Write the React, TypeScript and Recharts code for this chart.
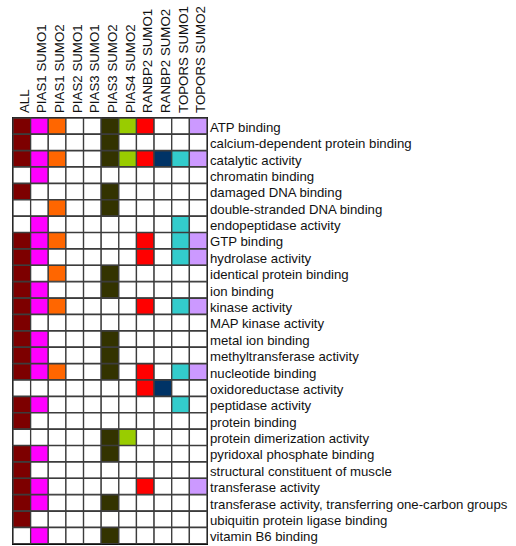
import React from 'react';
import { BarChart, Bar, XAxis, YAxis, Cell, ReferenceArea } from 'recharts';

const columns = [
  'ALL',
  'PIAS1 SUMO1',
  'PIAS1 SUMO2',
  'PIAS2 SUMO1',
  'PIAS3 SUMO1',
  'PIAS3 SUMO2',
  'PIAS4 SUMO2',
  'RANBP2 SUMO1',
  'RANBP2 SUMO2',
  'TOPORS SUMO1',
  'TOPORS SUMO2',
];

const columnColors = [
  '#7D0000',
  '#FF00FF',
  '#FF6600',
  '#FFFFFF',
  '#FFFFFF',
  '#333300',
  '#99CC00',
  '#FF0000',
  '#003366',
  '#33CCCC',
  '#CC99FF',
];

const categories = [
  'ATP binding',
  'calcium-dependent protein binding',
  'catalytic activity',
  'chromatin binding',
  'damaged DNA binding',
  'double-stranded DNA binding',
  'endopeptidase activity',
  'GTP binding',
  'hydrolase activity',
  'identical protein binding',
  'ion binding',
  'kinase activity',
  'MAP kinase activity',
  'metal ion binding',
  'methyltransferase activity',
  'nucleotide binding',
  'oxidoreductase activity',
  'peptidase activity',
  'protein binding',
  'protein dimerization activity',
  'pyridoxal phosphate binding',
  'structural constituent of muscle',
  'transferase activity',
  'transferase activity, transferring one-carbon groups',
  'ubiquitin protein ligase binding',
  'vitamin B6 binding',
];

// 1 = term enriched for that column
const membership = [
  [1, 1, 1, 0, 0, 1, 1, 1, 0, 0, 1],
  [1, 0, 0, 0, 0, 1, 0, 0, 0, 0, 0],
  [1, 1, 1, 0, 0, 1, 1, 1, 1, 1, 1],
  [0, 1, 0, 0, 0, 0, 0, 0, 0, 0, 0],
  [1, 0, 0, 0, 0, 1, 0, 0, 0, 0, 0],
  [0, 0, 1, 0, 0, 1, 0, 0, 0, 0, 0],
  [0, 1, 0, 0, 0, 0, 0, 0, 0, 1, 0],
  [1, 1, 1, 0, 0, 0, 0, 1, 0, 1, 1],
  [1, 1, 0, 0, 0, 0, 0, 1, 0, 1, 1],
  [1, 0, 1, 0, 0, 1, 0, 0, 0, 0, 0],
  [1, 1, 0, 0, 0, 1, 0, 0, 0, 0, 0],
  [1, 1, 1, 0, 0, 0, 0, 1, 0, 1, 1],
  [1, 0, 0, 0, 0, 0, 0, 0, 0, 0, 0],
  [1, 1, 0, 0, 0, 1, 0, 0, 0, 0, 0],
  [1, 1, 0, 0, 0, 1, 0, 0, 0, 0, 0],
  [1, 1, 1, 0, 0, 1, 0, 1, 0, 1, 1],
  [0, 0, 0, 0, 0, 0, 0, 1, 1, 0, 0],
  [1, 1, 0, 0, 0, 0, 0, 0, 0, 1, 0],
  [1, 0, 0, 0, 0, 0, 0, 0, 0, 0, 0],
  [0, 0, 0, 0, 0, 1, 1, 0, 0, 0, 0],
  [1, 1, 0, 0, 0, 1, 0, 0, 0, 0, 0],
  [1, 0, 0, 0, 0, 0, 0, 0, 0, 0, 0],
  [1, 1, 0, 0, 0, 0, 0, 1, 0, 0, 1],
  [1, 1, 0, 0, 0, 1, 0, 0, 0, 0, 0],
  [1, 0, 0, 0, 0, 0, 0, 0, 0, 0, 0],
  [0, 1, 0, 0, 0, 1, 0, 0, 0, 0, 0],
];

const columnTicks = columns.map((_, j) => j + 0.5);

const data = categories.map((name) => {
  const row: Record<string, string | number> = { name };
  columns.forEach((_, j) => {
    row[`c${j}`] = 1;
  });
  return row;
});

const FONT = '"Liberation Sans", Arial, sans-serif';

const ColumnTick = (props: any) => {
  const { x, y, payload } = props;
  const idx = Math.floor(payload.value);
  return (
    <g transform={`translate(${x + 7},${y}) rotate(-90)`}>
      <text x={0} y={0} textAnchor="start" fontSize={13.3} fontFamily={FONT} fill="#111">
        {columns[idx]}
      </text>
    </g>
  );
};

const RowTick = (props: any) => {
  const { x, y, payload } = props;
  return (
    <text x={x} y={y + 5.6} textAnchor="start" fontSize={13.2} fontFamily={FONT} fill="#111">
      {payload.value}
    </text>
  );
};

export default function App() {
  return (
    <div style={{ position: 'absolute', left: 0, top: 0, width: 516, height: 546, background: '#fff' }}>
      <BarChart
        width={516}
        height={546}
        data={data}
        layout="vertical"
        barCategoryGap={0}
        margin={{ top: 0, right: 0, left: 13, bottom: 2 }}
      >
        <XAxis
          type="number"
          orientation="top"
          domain={[0, 11]}
          ticks={columnTicks}
          interval={0}
          height={118}
          axisLine={false}
          tickLine={false}
          tickSize={0}
          tickMargin={5}
          tick={<ColumnTick />}
        />
        <YAxis
          type="category"
          dataKey="name"
          orientation="right"
          width={309}
          interval={0}
          axisLine={false}
          tickLine={false}
          tickSize={0}
          tickMargin={3}
          tick={<RowTick />}
        />
        {columns.map((c, j) => (
          <Bar
            key={c}
            dataKey={`c${j}`}
            stackId="grid"
            isAnimationActive={false}
            stroke="#3c3c3c"
            strokeWidth={1.3}
          >
            {categories.map((cat, i) => (
              <Cell key={cat} fill={membership[i][j] ? columnColors[j] : '#FFFFFF'} />
            ))}
          </Bar>
        ))}
        <ReferenceArea
          x1={0}
          x2={11}
          fill="none"
          fillOpacity={0}
          stroke="#000"
          strokeWidth={2}
          ifOverflow="visible"
        />
      </BarChart>
    </div>
  );
}
